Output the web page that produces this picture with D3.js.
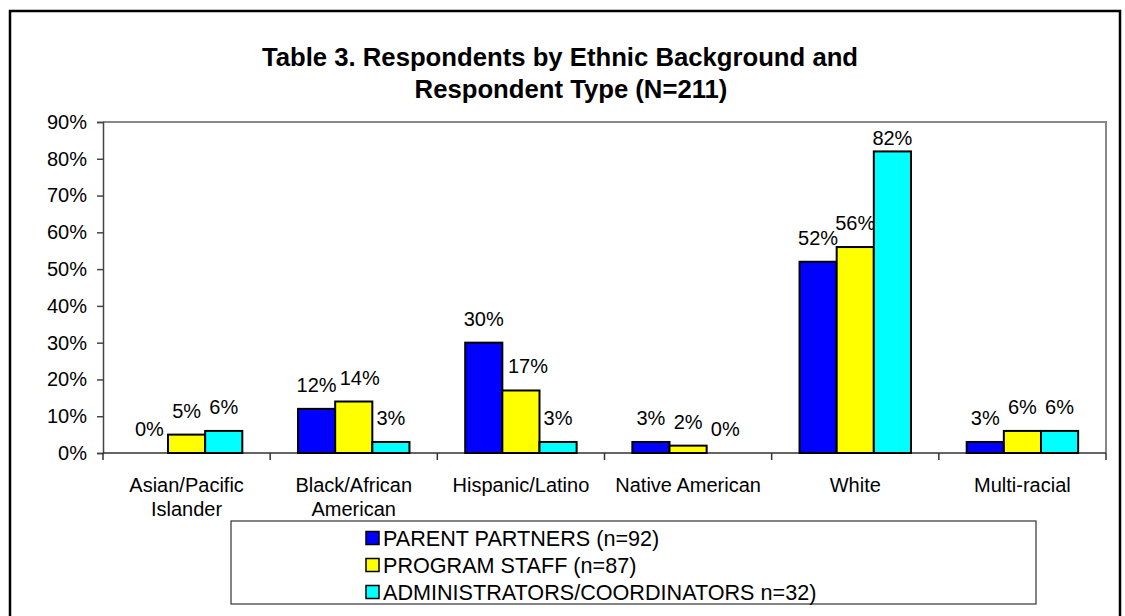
<!DOCTYPE html>
<html lang="en">
<head>
    <meta charset="UTF-8">
    <title>Respondents by Ethnic Background and Respondent Type</title>
    <script src="https://d3js.org/d3.v7.min.js"></script>
    <style>
        body { margin: 0; background: #fff; }
        svg { display: block; font-family: "Liberation Sans", Arial, sans-serif; }
        .tick-label, .cat-label, .val-label { font-size: 20px; fill: #000; }
        .legend-label { font-size: 21.6px; fill: #000; }
        .title { font-size: 25.7px; font-weight: bold; fill: #000; }
    </style>
</head>
<body>
<svg width="1125" height="616"></svg>
<script>
    // data
    var categories = [
        ["Asian/Pacific", "Islander"],
        ["Black/African", "American"],
        ["Hispanic/Latino"],
        ["Native American"],
        ["White"],
        ["Multi-racial"]
    ];
    var seriesNames = [
        "PARENT PARTNERS (n=92)",
        "PROGRAM STAFF (n=87)",
        "ADMINISTRATORS/COORDINATORS n=32)"
    ];
    var parentPartners = [0, 12, 30, 3, 52, 3];
    var programStaff = [5, 14, 17, 2, 56, 6];
    var administrators = [6, 3, 3, 0, 82, 6];
    var yTicks = [0, 10, 20, 30, 40, 50, 60, 70, 80, 90];

    var colors = ["#0000ff", "#ffff00", "#00ffff"];
    // a couple of labels were moved sideways in the original
    var labelNudge = { "1-1": 6, "2-1": 7 };

    var allSeries = [parentPartners, programStaff, administrators];

    var svg = d3.select("svg");
    var plotLeft = 103, plotRight = 1106, plotTop = 122, plotBottom = 453;

    // outer chart frame
    svg.append("rect")
        .attr("x", 10).attr("y", 11)
        .attr("width", 1110).attr("height", 640)
        .attr("fill", "none").attr("stroke", "#000").attr("stroke-width", 2.5);

    // title
    svg.append("text").attr("class", "title")
        .attr("x", 560).attr("y", 65.5).attr("text-anchor", "middle")
        .text("Table 3. Respondents by Ethnic Background and");
    svg.append("text").attr("class", "title")
        .attr("x", 571).attr("y", 98).attr("text-anchor", "middle")
        .text("Respondent Type (N=211)");

    var x = d3.scaleBand().domain(d3.range(categories.length)).range([plotLeft, plotRight]).padding(0);
    var bw = x.bandwidth();
    var gap = bw * 1.5 / 4.5;
    var xs = d3.scaleBand().domain(d3.range(allSeries.length)).range([gap / 2, bw - gap / 2]).padding(0);
    var y = d3.scaleLinear().domain([0, 90]).range([plotBottom, plotTop]);

    // plot area border (top and right)
    svg.append("path")
        .attr("d", "M" + plotLeft + "," + plotTop + "H" + plotRight + "V" + plotBottom)
        .attr("fill", "none").attr("stroke", "#888").attr("stroke-width", 2);

    // y axis
    var yAxis = svg.append("g")
        .attr("transform", "translate(" + plotLeft + ",0)")
        .call(d3.axisLeft(y).tickValues(yTicks).tickSize(6).tickPadding(10).tickFormat(d => d + "%"));
    yAxis.select(".domain").attr("stroke", "#444").attr("stroke-width", 1.5);
    yAxis.selectAll(".tick line").attr("stroke", "#444").attr("stroke-width", 1.5);
    yAxis.selectAll(".tick text").attr("class", "tick-label")
        .style("font-size", "20px").style("font-family", "'Liberation Sans', Arial, sans-serif").attr("fill", "#000");

    // x axis with ticks between categories
    var xAxis = svg.append("g").attr("transform", "translate(0," + plotBottom + ")");
    xAxis.append("line")
        .attr("x1", plotLeft).attr("x2", plotRight)
        .attr("stroke", "#333").attr("stroke-width", 1.5);
    xAxis.selectAll(".ctick")
        .data(d3.range(categories.length + 1))
        .enter().append("line")
        .attr("x1", d => plotLeft + d * bw).attr("x2", d => plotLeft + d * bw)
        .attr("y1", 0).attr("y2", 7)
        .attr("stroke", "#333").attr("stroke-width", 1.5);

    // category labels
    categories.forEach(function (lines, i) {
        var t = svg.append("text").attr("class", "cat-label")
            .attr("text-anchor", "middle")
            .attr("x", x(i) + bw / 2).attr("y", 492);
        lines.forEach(function (ln, k) {
            t.append("tspan").attr("x", x(i) + bw / 2).attr("dy", k === 0 ? 0 : 23.5).text(ln);
        });
    });

    // bars and value labels
    allSeries.forEach(function (vals, s) {
        var pts = vals.map((v, i) => ({ v: v, i: i }));
        var g = svg.append("g");
        g.selectAll("rect")
            .data(pts.filter(d => d.v > 0))
            .enter().append("rect")
            .attr("x", d => x(d.i) + xs(s))
            .attr("y", d => y(d.v))
            .attr("width", xs.bandwidth())
            .attr("height", d => plotBottom - y(d.v))
            .attr("fill", colors[s])
            .attr("stroke", "#000")
            .attr("stroke-width", 2);

        g.selectAll("text")
            .data(pts)
            .enter().append("text")
            .attr("class", "val-label")
            .attr("text-anchor", "middle")
            .attr("x", d => x(d.i) + xs(s) + xs.bandwidth() / 2 + (labelNudge[d.i + "-" + s] || 0))
            .attr("y", d => Math.max(y(d.v) - 17, plotTop + 23))
            .text(d => d.v + "%");
    });

    // legend
    var lg = svg.append("g");
    lg.append("rect")
        .attr("x", 231).attr("y", 521)
        .attr("width", 805).attr("height", 83)
        .attr("fill", "#fff").attr("stroke", "#333").attr("stroke-width", 1.2);
    seriesNames.forEach(function (name, s) {
        var by = 545.5 + s * 27;
        lg.append("rect")
            .attr("x", 366).attr("y", by - 14)
            .attr("width", 13).attr("height", 13)
            .attr("fill", colors[s]).attr("stroke", "#000").attr("stroke-width", 1.5);
        lg.append("text").attr("class", "legend-label")
            .attr("x", 383).attr("y", by)
            .text(name);
    });
</script>
</body>
</html>
